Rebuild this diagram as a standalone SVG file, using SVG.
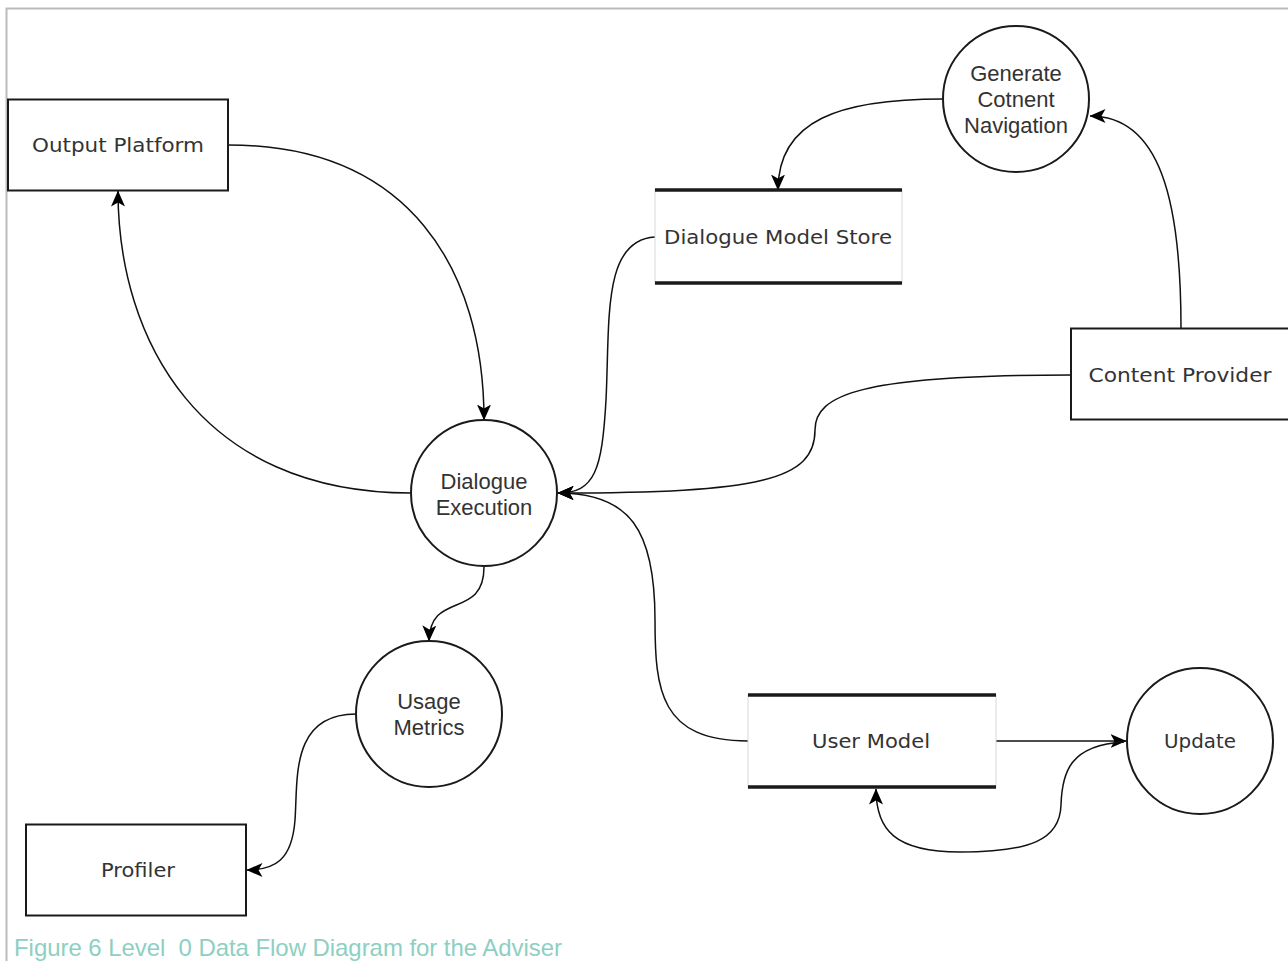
<svg xmlns="http://www.w3.org/2000/svg" width="1288" height="961" viewBox="0 0 1288 961">
<style>
.box{fill:#fff;stroke:#1a1a1a;stroke-width:2}
.proc{fill:#fff;stroke:#1a1a1a;stroke-width:2}
.storebg{fill:#fff;stroke:#d8d8d8;stroke-width:1}
.storeline{stroke:#1a1a1a;stroke-width:3.5}
.lbl{font-family:"DejaVu Sans",Verdana,sans-serif;font-size:20px;fill:#333;text-anchor:middle}
.clbl{font-family:"Liberation Sans",Arial,sans-serif;font-size:22px;fill:#333;text-anchor:middle}
.edge{fill:none;stroke:#111;stroke-width:1.5}
.cap{font-family:"Liberation Sans",Arial,sans-serif;font-size:24px;fill:#8ecfc3}
</style>
<defs>
<marker id="arr" viewBox="0 0 16 14" refX="15.5" refY="7" markerWidth="16" markerHeight="14" markerUnits="userSpaceOnUse" orient="auto">
<path d="M0,0 L16,7 L0,14 L4,7 z" fill="#000"/>
</marker>
</defs>
<rect x="0" y="0" width="1288" height="961" fill="#fff"/>
<path d="M6.5,961 L6.5,8.5 L1288,8.5" fill="none" stroke="#bbbbbb" stroke-width="2"/>

<g id="connectors">
<path class="edge" d="M228,145 C 410,145 484,270 484,420" marker-end="url(#arr)"/>
<path class="edge" d="M411,493 C 200,493 118,340 118,191" marker-end="url(#arr)"/>
<path class="edge" d="M655,237 C 602,240 610,320 606,400 C 602,470 595,493 558,493" marker-end="url(#arr)"/>
<path class="edge" d="M943,99 C 840,99 778,120 778,190" marker-end="url(#arr)"/>
<path class="edge" d="M1181,328 C 1181,200 1160,116 1090,116" marker-end="url(#arr)"/>
<path class="edge" d="M1071,375 C 860,375 815,395 815,430 C 815,480 760,493 558,493" marker-end="url(#arr)"/>
<path class="edge" d="M748,741 C 660,741 655,690 655,620 C 655,530 630,493 558,493" marker-end="url(#arr)"/>
<path class="edge" d="M484,567 C 484,620 430,590 429,641" marker-end="url(#arr)"/>
<path class="edge" d="M356,714 C 290,714 298,780 295,820 C 292,860 275,870 247,870" marker-end="url(#arr)"/>
<path class="edge" d="M996,741 L1126,741" marker-end="url(#arr)"/>
<path class="edge" d="M1124,742 C 1070,745 1062,772 1061,805 C 1060,840 1030,852 960,852 C 895,852 876,830 876,789" marker-end="url(#arr)"/>
</g>

<g id="output-platform">
<rect class="box" x="8" y="99.5" width="220" height="91"/>
<text class="lbl" x="118" y="152" textLength="172" lengthAdjust="spacingAndGlyphs">Output Platform</text>
</g>

<g id="dialogue-model-store">
<rect class="storebg" x="655" y="190" width="247" height="93"/>
<line class="storeline" x1="655" y1="190" x2="902" y2="190"/>
<line class="storeline" x1="655" y1="283" x2="902" y2="283"/>
<text class="lbl" x="778" y="244" textLength="228" lengthAdjust="spacingAndGlyphs">Dialogue Model Store</text>
</g>

<g id="generate-content-navigation">
<circle class="proc" cx="1016" cy="99" r="73"/>
<text class="clbl" x="1016" y="81">Generate</text>
<text class="clbl" x="1016" y="107">Cotnent</text>
<text class="clbl" x="1016" y="133">Navigation</text>
</g>

<g id="content-provider">
<rect class="box" x="1071" y="328.5" width="230" height="91"/>
<text class="lbl" x="1180" y="382" textLength="183" lengthAdjust="spacingAndGlyphs">Content Provider</text>
</g>

<g id="dialogue-execution">
<circle class="proc" cx="484" cy="493" r="73"/>
<text class="clbl" x="484" y="489">Dialogue</text>
<text class="clbl" x="484" y="515">Execution</text>
</g>

<g id="usage-metrics">
<circle class="proc" cx="429" cy="714" r="73"/>
<text class="clbl" x="429" y="709">Usage</text>
<text class="clbl" x="429" y="735">Metrics</text>
</g>

<g id="profiler">
<rect class="box" x="26" y="824.5" width="220" height="91"/>
<text class="lbl" x="138" y="877" textLength="74" lengthAdjust="spacingAndGlyphs">Profiler</text>
</g>

<g id="user-model">
<rect class="storebg" x="748" y="695" width="248" height="92"/>
<line class="storeline" x1="748" y1="695" x2="996" y2="695"/>
<line class="storeline" x1="748" y1="787" x2="996" y2="787"/>
<text class="lbl" x="871" y="748" textLength="118" lengthAdjust="spacingAndGlyphs">User Model</text>
</g>

<g id="update">
<circle class="proc" cx="1200" cy="741" r="73"/>
<text class="lbl" x="1200" y="748" textLength="72" lengthAdjust="spacingAndGlyphs">Update</text>
</g>

<text class="cap" x="14" y="956" textLength="548" lengthAdjust="spacing" xml:space="preserve">Figure 6 Level  0 Data Flow Diagram for the Adviser</text>
</svg>
